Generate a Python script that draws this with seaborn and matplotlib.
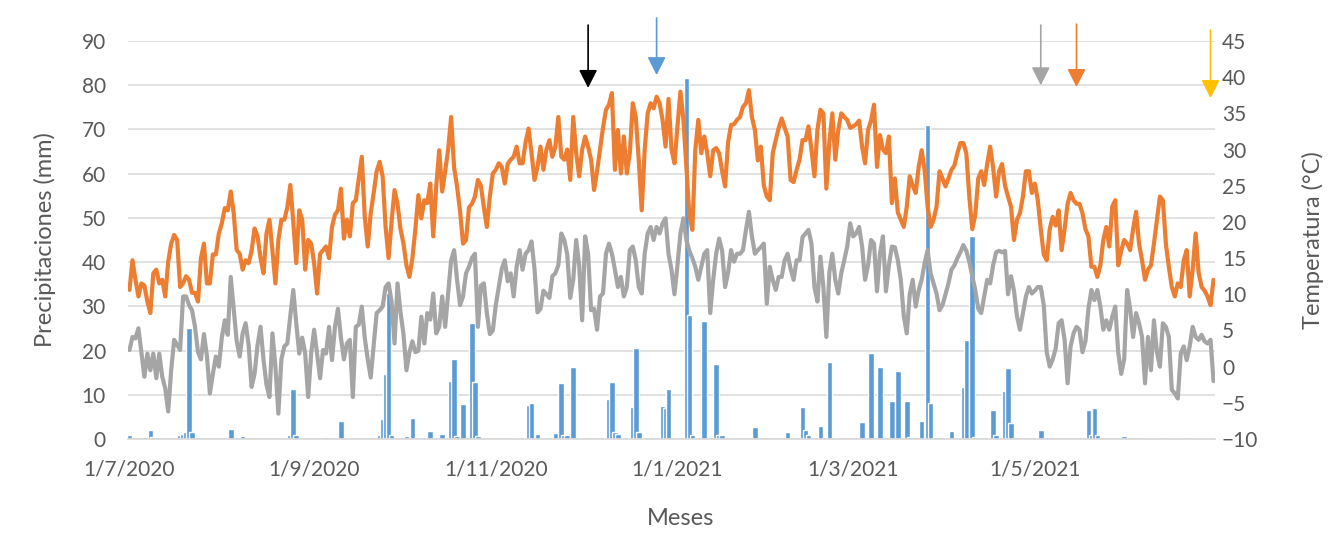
import matplotlib
matplotlib.use("Agg")
import matplotlib.pyplot as plt
import matplotlib.dates as mdates
import seaborn as sns
import pandas as pd

# daily series, 1/7/2020 .. 30/6/2021
start, end = "2020-07-01", "2021-06-30"

# maximum temperature (°C), one value per day
tmax = [
    10.6, 14.7, 12.0, 9.7, 11.5, 11.2, 9.0, 7.4, 12.9, 13.4,
    11.5, 12.0, 9.7, 14.5, 17.0, 18.2, 17.5, 11.0, 11.5, 12.5,
    12.0, 10.2, 10.2, 9.0, 15.0, 17.0, 11.5, 11.5, 15.5, 15.5,
    18.4, 19.8, 21.9, 21.6, 24.2, 21.2, 16.1, 15.6, 13.4, 14.7,
    14.3, 16.0, 19.1, 18.0, 15.0, 12.9, 18.4, 20.3, 16.0, 11.5,
    17.5, 20.3, 20.3, 22.0, 25.1, 20.0, 14.3, 21.6, 20.3, 13.4,
    17.5, 17.0, 14.3, 10.1, 15.6, 16.1, 16.6, 15.0, 19.3, 21.0,
    21.6, 24.6, 17.7, 20.3, 18.0, 22.6, 23.0, 26.0, 29.0, 20.7,
    16.6, 21.2, 24.0, 27.0, 28.3, 26.3, 19.3, 15.0, 20.0, 24.4,
    22.5, 19.0, 17.0, 14.0, 12.4, 15.0, 19.0, 23.7, 20.5, 23.0,
    22.6, 25.3, 18.0, 24.9, 29.9, 24.2, 27.0, 30.0, 34.5, 27.5,
    24.9, 21.5, 17.0, 17.5, 22.0, 22.5, 23.5, 25.8, 25.0, 22.0,
    19.3, 23.5, 26.7, 27.2, 28.1, 27.6, 25.3, 28.0, 28.6, 29.0,
    30.4, 28.1, 28.1, 31.0, 32.9, 29.5, 25.8, 27.6, 30.4, 27.2,
    30.0, 31.3, 29.0, 30.4, 34.5, 29.0, 28.6, 30.0, 25.8, 34.5,
    29.5, 26.3, 30.0, 31.8, 30.4, 28.6, 24.4, 27.0, 30.0, 33.0,
    35.5, 36.2, 37.8, 27.2, 32.7, 26.7, 31.8, 26.7, 29.5, 36.4,
    34.5, 28.6, 21.6, 30.0, 35.0, 36.4, 35.7, 37.3, 36.4, 34.1,
    30.4, 37.0, 30.0, 28.1, 33.2, 38.0, 34.1, 27.6, 21.0, 18.9,
    30.0, 34.1, 29.5, 31.8, 29.5, 26.3, 29.9, 30.2, 29.5, 27.0,
    24.9, 31.0, 33.4, 33.5, 34.1, 34.5, 35.9, 36.4, 38.2, 34.5,
    32.7, 28.5, 30.4, 25.0, 23.5, 23.0, 29.5, 31.3, 33.0, 34.3,
    33.0, 31.8, 25.8, 25.5, 27.2, 28.6, 31.3, 31.3, 33.2, 30.0,
    26.3, 32.7, 35.5, 35.0, 24.6, 31.0, 35.0, 28.6, 32.7, 35.0,
    34.5, 34.1, 33.0, 33.2, 33.5, 34.0, 30.4, 28.1, 32.7, 34.0,
    36.2, 27.6, 32.0, 30.0, 29.5, 31.8, 22.6, 26.0, 21.3, 20.3,
    19.3, 22.1, 26.3, 25.0, 24.0, 27.6, 29.9, 27.2, 22.1, 19.3,
    20.3, 22.1, 27.0, 26.0, 24.9, 26.0, 27.2, 27.8, 29.5, 30.9,
    30.9, 29.5, 23.5, 19.0, 21.0, 26.0, 27.0, 25.1, 28.0, 30.4,
    27.5, 23.5, 27.0, 28.0, 25.0, 23.5, 22.1, 17.5, 20.3, 21.2,
    23.5, 27.0, 27.0, 24.0, 25.3, 23.0, 19.0, 15.5, 14.7, 19.0,
    20.7, 19.5, 21.6, 16.1, 19.0, 22.5, 24.0, 23.0, 22.5, 22.5,
    21.2, 19.0, 18.0, 13.8, 13.8, 12.4, 14.0, 17.5, 19.3, 16.6,
    22.1, 23.0, 14.0, 16.0, 17.5, 17.0, 16.1, 19.0, 21.4, 17.0,
    14.7, 12.0, 13.4, 14.0, 17.0, 20.3, 23.5, 23.0, 17.0, 13.8,
    11.0, 9.7, 11.5, 11.0, 14.7, 16.1, 9.7, 13.4, 18.4, 13.0,
    11.0, 10.5, 9.7, 8.5, 12.0,
]

# minimum temperature (°C), one value per day
tmin = [
    2.3, 4.1, 3.9, 5.3, 1.9, -1.4, 1.8, -0.5, 1.8, -1.6,
    1.8, -1.4, -3.0, -6.2, -0.5, 3.7, 3.0, 2.3, 9.7, 9.7,
    8.5, 7.8, 5.5, 2.0, 1.0, 4.5, 1.5, -3.7, -1.0, 1.4,
    0.0, 4.0, 6.4, 4.4, 12.4, 8.0, 3.5, 1.4, 4.6, 6.0,
    3.0, -2.8, -1.0, 3.0, 5.5, 1.0, -2.5, -4.2, 4.6, 0.0,
    -6.5, 1.0, 2.8, 3.2, 7.0, 10.6, 6.0, 1.8, 4.0, 1.8,
    -4.2, 1.8, 5.1, 1.8, -1.6, 2.3, 1.8, 5.5, 0.9, 5.5,
    8.0, 4.0, 1.0, 3.2, 3.7, -4.2, 5.5, 5.8, 8.3, 4.0,
    1.0, -1.5, 3.0, 7.4, 7.8, 8.3, 11.0, 11.5, 9.0, 3.2,
    11.5, 7.5, 4.5, -0.5, 2.0, 3.5, 2.0, 2.2, 6.9, 3.2,
    7.4, 6.5, 10.1, 4.6, 5.5, 9.7, 5.5, 10.1, 14.7, 16.1,
    12.0, 8.5, 9.7, 12.9, 13.8, 15.0, 15.6, 5.5, 11.2, 11.5,
    7.4, 4.5, 5.0, 8.5, 11.0, 13.5, 14.7, 11.8, 12.9, 9.7,
    13.8, 16.1, 13.4, 15.6, 16.1, 17.3, 13.5, 7.5, 8.0, 10.5,
    10.0, 9.5, 12.5, 12.9, 14.0, 18.4, 17.5, 15.5, 9.5, 12.0,
    17.5, 14.0, 6.4, 18.0, 15.6, 7.8, 8.0, 5.1, 9.7, 10.1,
    15.6, 17.0, 15.6, 13.4, 11.0, 12.4, 9.7, 11.0, 16.1, 16.6,
    14.7, 11.0, 10.1, 15.6, 18.4, 19.3, 17.5, 19.3, 18.4, 19.8,
    20.5, 15.6, 13.4, 10.0, 14.0, 18.4, 20.5, 17.5, 16.0, 15.0,
    13.8, 12.0, 13.8, 15.6, 16.1, 7.4, 12.0, 15.6, 17.7, 16.0,
    11.0, 13.0, 16.1, 14.5, 15.6, 15.6, 16.1, 18.9, 21.4, 18.0,
    15.6, 16.1, 16.5, 17.0, 8.7, 13.8, 12.0, 10.6, 12.4, 12.4,
    14.7, 15.6, 13.5, 12.0, 14.7, 14.7, 17.9, 18.4, 18.9, 17.0,
    11.0, 9.0, 15.2, 11.0, 4.1, 13.0, 15.6, 12.0, 10.1, 12.9,
    14.7, 16.6, 19.8, 18.0, 18.4, 19.3, 16.6, 12.0, 14.0, 17.5,
    17.0, 10.4, 15.6, 18.0, 10.4, 14.0, 16.6, 16.5, 14.7, 12.0,
    7.0, 4.6, 10.0, 12.0, 8.3, 10.5, 12.0, 14.3, 16.1, 12.9,
    11.5, 10.1, 7.8, 8.5, 10.0, 11.5, 13.4, 14.0, 15.0, 15.8,
    16.8, 16.0, 14.5, 12.5, 10.6, 8.0, 7.4, 9.7, 12.0, 11.5,
    14.0, 15.8, 16.0, 15.8, 16.0, 10.0, 12.5, 10.5, 7.0, 5.1,
    7.4, 9.7, 11.0, 10.1, 10.5, 11.0, 11.0, 8.5, 2.0, 0.0,
    1.0, 2.5, 6.0, 6.4, 3.7, -2.3, 2.8, 4.6, 5.5, 5.1,
    2.0, 3.5, 8.0, 10.6, 9.2, 10.6, 8.3, 5.1, 6.4, 5.1,
    6.9, 8.3, 2.0, -1.0, 1.0, 10.6, 8.0, 4.1, 7.4, 6.0,
    4.1, -2.3, 4.1, -0.5, 6.4, 2.0, 0.0, 6.0, 5.5, 4.1,
    -3.2, -3.7, -4.4, 1.8, 2.8, 0.9, 2.8, 5.5, 4.1, 3.7,
    4.4, 3.5, 3.2, 3.7, -2.0,
]

# rainy days only (mm), all other days are 0
rain_dates = [
    "2020-07-01", "2020-07-06", "2020-07-08", "2020-07-09", "2020-07-18",
    "2020-07-19", "2020-07-20", "2020-07-21", "2020-07-22", "2020-08-04",
    "2020-08-08", "2020-08-24", "2020-08-25", "2020-08-26", "2020-09-05",
    "2020-09-10", "2020-09-23", "2020-09-24", "2020-09-25", "2020-09-26",
    "2020-09-27", "2020-10-02", "2020-10-04", "2020-10-10", "2020-10-14",
    "2020-10-17", "2020-10-18", "2020-10-19", "2020-10-21", "2020-10-24",
    "2020-10-25", "2020-10-26", "2020-11-08", "2020-11-12", "2020-11-13",
    "2020-11-15", "2020-11-21", "2020-11-23", "2020-11-24", "2020-11-25",
    "2020-11-27", "2020-12-09", "2020-12-10", "2020-12-11", "2020-12-12",
    "2020-12-17", "2020-12-18", "2020-12-19", "2020-12-27", "2020-12-28",
    "2020-12-29", "2021-01-04", "2021-01-05", "2021-01-06", "2021-01-10",
    "2021-01-14", "2021-01-15", "2021-01-16", "2021-01-27", "2021-01-31",
    "2021-02-07", "2021-02-12", "2021-02-13", "2021-02-14", "2021-02-18",
    "2021-02-21", "2021-03-04", "2021-03-07", "2021-03-10", "2021-03-14",
    "2021-03-16", "2021-03-19", "2021-03-20", "2021-03-22", "2021-03-24",
    "2021-03-26", "2021-03-27", "2021-03-29", "2021-04-03", "2021-04-07",
    "2021-04-08", "2021-04-10", "2021-04-11", "2021-04-17", "2021-04-18",
    "2021-04-21", "2021-04-22", "2021-04-23", "2021-04-25", "2021-05-03",
    "2021-05-18", "2021-05-19", "2021-05-20", "2021-05-21", "2021-05-22",
    "2021-05-31", "2021-06-09", "2021-06-18", "2021-06-26", "2021-06-28",
]
rain_mm = [
    1.0, 0.5, 2.0, 0.5, 0.8,
    1.2, 1.5, 25.0, 1.5, 2.2,
    0.6, 0.8, 11.3, 0.8, 0.5,
    4.0, 0.8, 4.5, 14.8, 33.0,
    0.8, 0.6, 4.8, 1.8, 1.2,
    13.2, 18.2, 0.6, 8.0, 26.2,
    13.0, 0.6, 0.3, 7.8, 8.2,
    1.2, 1.4, 12.7, 1.0, 1.0,
    16.3, 9.0, 13.0, 1.5, 1.2,
    7.3, 20.6, 1.5, 7.5, 7.0,
    11.3, 81.6, 28.0, 0.8, 26.7,
    17.0, 1.0, 0.8, 2.7, 0.5,
    1.5, 7.3, 2.0, 1.0, 3.0,
    17.5, 3.8, 19.5, 16.3, 8.5,
    15.3, 8.5, 0.5, 0.5, 4.0,
    71.0, 8.2, 0.5, 1.7, 11.8,
    22.3, 46.0, 0.5, 6.6, 1.0,
    10.8, 16.0, 3.7, 0.5, 2.0,
    0.5, 6.6, 1.0, 7.0, 0.8,
    0.7, 0.3, 0.3, 0.3, 0.3,
]

tick_dates = ["2020-07-01", "2020-09-01", "2020-11-01",
              "2021-01-01", "2021-03-01", "2021-05-01"]
tick_labels = ["1/7/2020", "1/9/2020", "1/11/2020",
               "1/1/2021", "1/3/2021", "1/5/2021"]

# marker arrows above the plot (date, tail and tip on the mm axis, colour)
arrow_dates = ["2020-12-02", "2020-12-25", "2021-05-03", "2021-05-15", "2021-06-29"]
arrow_tail = [93.6, 95.2, 93.6, 93.8, 92.5]
arrow_tip = [79.4, 82.3, 80.0, 79.6, 77.1]
arrow_colors = ["black", "#5B9BD5", "#A5A5A5", "#ED7D31", "#FFC000"]

BLUE, ORANGE, GREY = "#5B9BD5", "#ED7D31", "#A5A5A5"
TXT = "#595959"

temps = pd.DataFrame({"fecha": pd.date_range(start, end, freq="D"),
                      "tmax": tmax, "tmin": tmin})
rain = pd.DataFrame({"fecha": pd.to_datetime(rain_dates), "mm": rain_mm})

sns.set_theme(style="white")
plt.rcParams["font.family"] = ["Lato", "DejaVu Sans"]

fig = plt.figure(figsize=(13.31, 5.49), dpi=100)
ax = fig.add_axes([128 / 1331, 1 - 439 / 549, 1087 / 1331, 398 / 549])

ax.bar(rain["fecha"], rain["mm"], width=1.9, color=BLUE, zorder=2)
ax.set_ylim(0, 90)
ax.set_yticks(range(0, 91, 10))
ax.grid(axis="y", color="#D9D9D9", lw=1.1, zorder=0)
ax.set_axisbelow(True)
ax.set_xlim(temps["fecha"].iloc[0] - pd.Timedelta(hours=12),
            temps["fecha"].iloc[-1] + pd.Timedelta(hours=12))
ax.set_xticks(pd.to_datetime(tick_dates))
ax.set_xticklabels(tick_labels)

ax2 = ax.twinx()
sns.lineplot(data=temps, x="fecha", y="tmax", ax=ax2, color=ORANGE, lw=3.0)
sns.lineplot(data=temps, x="fecha", y="tmin", ax=ax2, color=GREY, lw=3.0)
ax2.set_ylim(-10, 45)
ax2.set_yticks(range(-10, 46, 5))

for a in (ax, ax2):
    for side in ("top", "left", "right", "bottom"):
        a.spines[side].set_visible(False)
    a.tick_params(length=0, labelsize=15, labelcolor=TXT)
ax.spines["bottom"].set_visible(True)
ax.spines["bottom"].set_color("#D9D9D9")
ax.tick_params(axis="y", pad=16)
ax.tick_params(axis="x", pad=15)
ax2.tick_params(axis="y", pad=5)

ax.set_ylabel("Precipitaciones (mm)", fontsize=17, color=TXT, va="center")
ax.yaxis.set_label_coords(-0.0764, 0.5)
ax2.set_ylabel("Temperatura (°C)", fontsize=17, color=TXT, va="center", rotation=90)
ax2.yaxis.set_label_coords(1.0902, 0.5)
ax.set_xlabel("Meses", fontsize=17, color=TXT, va="center")
ax.xaxis.set_label_coords(0.508, -0.1985)

for d, y0, y1, c in zip(arrow_dates, arrow_tail, arrow_tip, arrow_colors):
    x = mdates.date2num(pd.Timestamp(d))
    ax.annotate("", xy=(x, y1), xytext=(x, y0), annotation_clip=False,
                arrowprops=dict(arrowstyle="-|>,head_length=0.55,head_width=0.28",
                                mutation_scale=20, color=c, lw=1.2,
                                shrinkA=0, shrinkB=0))

fig.savefig("out.png", dpi=100)
